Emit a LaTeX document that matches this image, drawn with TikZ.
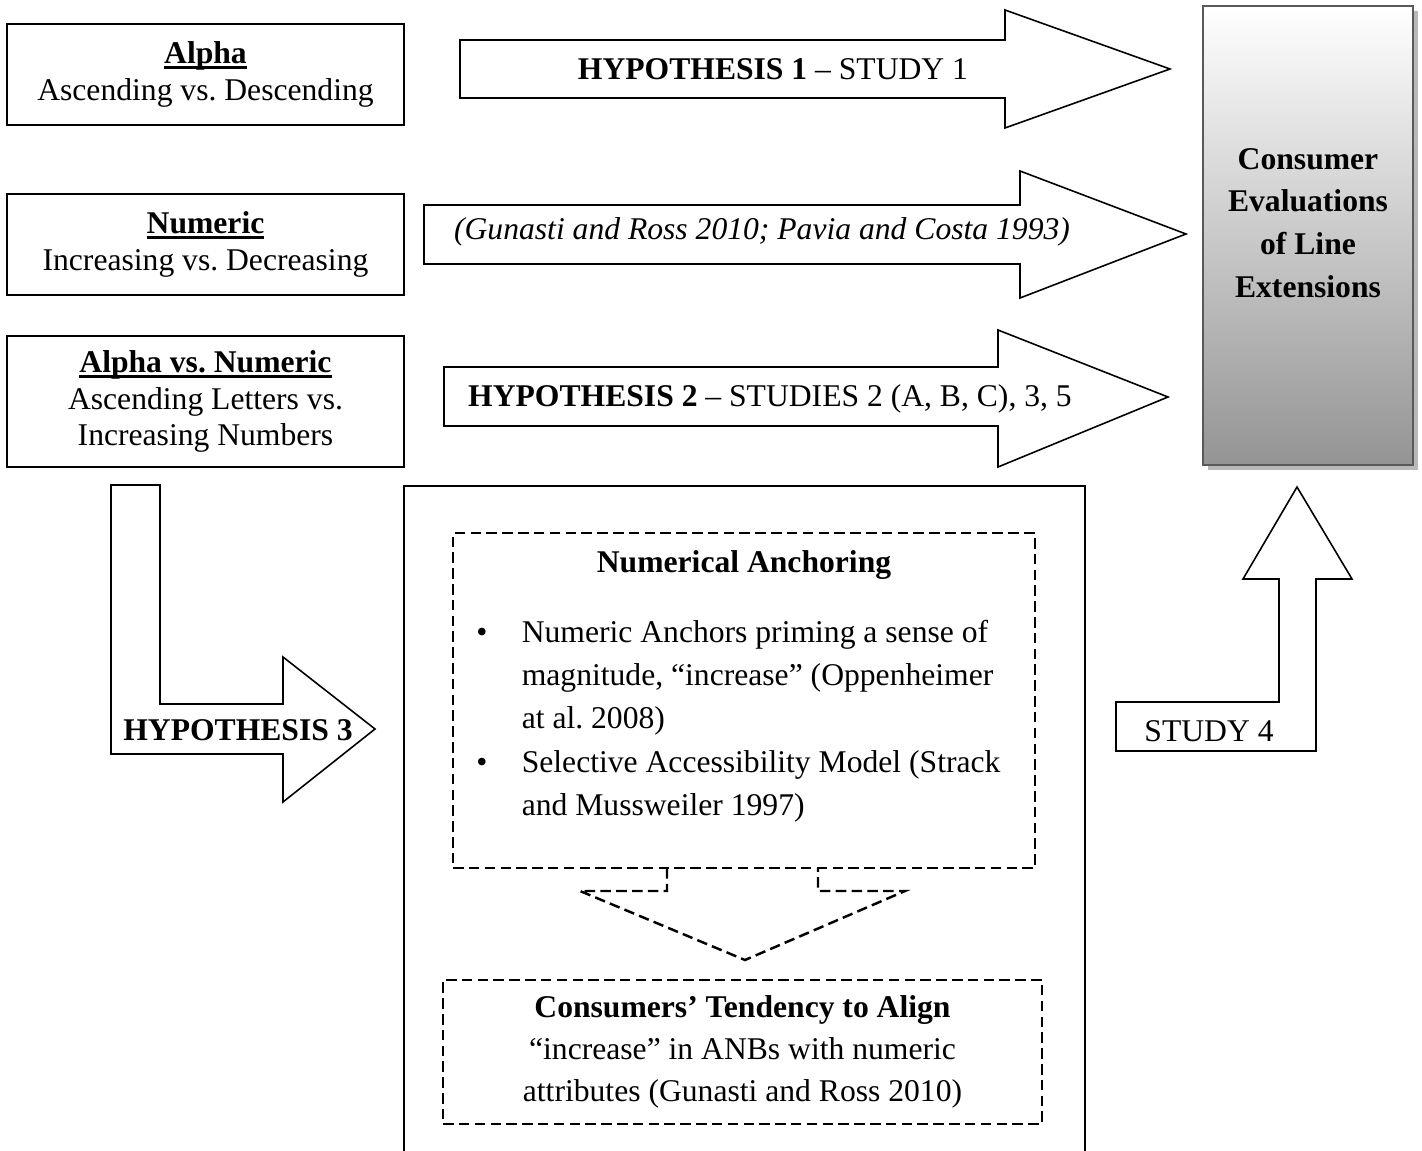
\documentclass[tikz,border=0pt]{standalone}
\usepackage{fontspec}
\setmainfont{Liberation Serif}
\usetikzlibrary{shadows}
\frenchspacing
\newcommand{\thickul}[1]{\sbox0{\textbf{#1}}\rlap{\usebox0}\rule[-2.8pt]{\wd0}{1.4pt}}

\begin{document}
\begin{tikzpicture}[x=0.02cm, y=-0.02cm, line width=0.9pt,
    txt/.style={font=\fontsize{18}{20.7}\selectfont, inner sep=0pt},
    factor/.style={txt, draw, align=center, minimum width=7.94cm},
    blockarrow/.style={draw, line width=0.9pt, line join=miter},
    dashbox/.style={draw, dash pattern=on 6pt off 3pt, line width=1.4pt}]

\useasboundingbox (0,0) rectangle (1422,1151);

% independent variables
\node[factor, minimum height=2.02cm] (alpha) at (205.5,74.5) {\thickul{Alpha}\\Ascending vs. Descending};
\node[factor, minimum height=2.02cm] (numeric) at (205.5,244.5) {\thickul{Numeric}\\Increasing vs. Decreasing};
\node[factor, minimum height=2.62cm] (alphanum) at (205.5,401.5) {\thickul{Alpha vs. Numeric}\\Ascending Letters vs.\\Increasing Numbers};

% dependent variable
\node[draw=black!65, line width=1.2pt, top color=white, bottom color=black!42,
      drop shadow={shadow xshift=0.1cm, shadow yshift=-0.1cm, fill=black!28, opacity=1},
      minimum width=4.2cm, minimum height=9.18cm] (cevbox) at (1308,235.5) {};
\node[txt, align=center, font=\fontsize{18}{24.4}\selectfont\bfseries] (cev) at (1308,223) {Consumer\\Evaluations\\of Line\\Extensions};

% block arrows to the dependent variable
\draw[blockarrow] (460,40) -- (1005,40) -- (1005,10) -- (1170,69) -- (1005,128) -- (1005,98) -- (460,98) -- cycle;
\node[txt] (hypone) at (773,69) {\textbf{HYPOTHESIS 1} -- STUDY 1};

\draw[blockarrow] (424,205) -- (1020,205) -- (1020,171) -- (1186,234) -- (1020,298) -- (1020,264) -- (424,264) -- cycle;
\node[txt] (prior) at (762,232) {\textit{(Gunasti and Ross 2010; Pavia and Costa 1993)}};

\draw[blockarrow] (444,367) -- (998,367) -- (998,330) -- (1168,397) -- (998,467) -- (998,426) -- (444,426) -- cycle;
\node[txt] (hyptwo) at (770,399) {\textbf{HYPOTHESIS 2} -- STUDIES 2 (A, B, C), 3, 5};

% bent arrows
\draw[blockarrow] (111,485) -- (160,485) -- (160,704) -- (283,704) -- (283,657) -- (375,729) -- (283,802) -- (283,754) -- (111,754) -- cycle;
\node[txt] (hypthree) at (238,730) {\textbf{HYPOTHESIS 3}};

\draw[blockarrow] (1116,702) -- (1279,702) -- (1279,579) -- (1243,579) -- (1297,487) -- (1352,579) -- (1316,579) -- (1316,751) -- (1116,751) -- cycle;
\node[txt] (studyfour) at (1209,731) {STUDY 4};

% mediating process
\draw (404,1151) -- (404,486) -- (1085,486) -- (1085,1151);

\node[dashbox, minimum width=11.64cm, minimum height=6.7cm] (anchorbox) at (744,700.5) {};
\node[txt] (anchortitle) at (744,565) {\textbf{Numerical Anchoring}};
\node[txt] (bulone) at (482,635) {\textbullet};
\node[txt, anchor=west, align=left, font=\fontsize{18}{24.4}\selectfont] (itemone) at (521,678) {Numeric Anchors priming a sense of\\magnitude, ``increase'' (Oppenheimer\\at al. 2008)};
\node[txt] (bultwo) at (482,765) {\textbullet};
\node[txt, anchor=west, align=left, font=\fontsize{18}{24.4}\selectfont] (itemtwo) at (521,786) {Selective Accessibility Model (Strack\\and Mussweiler 1997)};

\draw[dashbox] (667,868) -- (667,891) -- (580,891) -- (745,960) -- (905,891) -- (818,891) -- (818,868);

\node[dashbox, txt, align=center, font=\fontsize{18}{23.8}\selectfont, minimum width=11.98cm, minimum height=2.88cm] (alignbox) at (742.5,1052) {\textbf{Consumers' Tendency to Align}\\``increase'' in ANBs with numeric\\attributes (Gunasti and Ross 2010)};

\end{tikzpicture}
\end{document}
